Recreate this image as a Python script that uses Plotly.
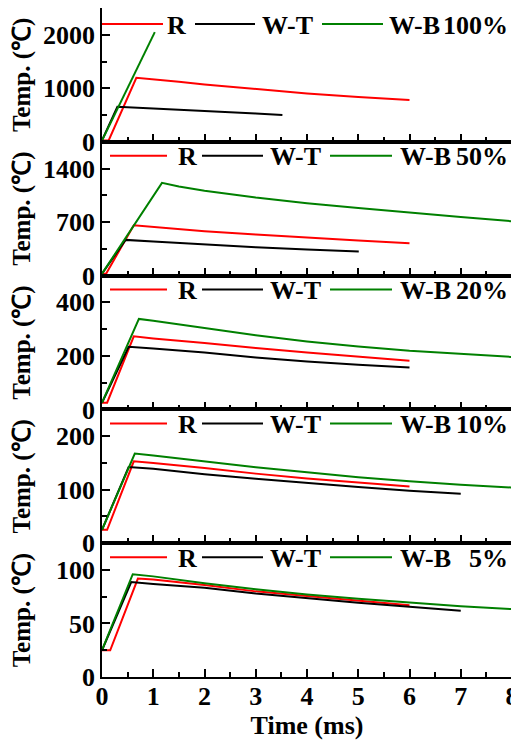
import plotly.graph_objects as go
from plotly.subplots import make_subplots

# ---------------- data ----------------
panel_labels = ["100%", "50%", "20%", "10%", "5%"]
series_names = ["R", "W-T", "W-B"]
series_colors = ["#FF0000", "#000000", "#008000"]

# 100 %
t_R_100 = [0, 0.13, 0.67, 1, 1.5, 2, 3, 4, 5, 6]
T_R_100 = [25, 25, 1197, 1170, 1120, 1072, 985, 904, 835, 779]
t_WT_100 = [0, 0.3, 1, 2, 3, 3.52]
T_WT_100 = [25, 655, 623, 580, 530, 499]
t_WB_100 = [0, 1.03]
T_WB_100 = [25, 2050]

# 50 %
t_R_50 = [0, 0.08, 0.62, 1, 1.5, 2, 3, 4, 5, 6]
T_R_50 = [25, 25, 659, 635, 606, 580, 537, 493, 458, 423]
t_WT_50 = [0, 0.46, 1, 2, 3, 4, 5.01]
T_WT_50 = [25, 467, 445, 406, 371, 340, 314]
t_WB_50 = [0, 1.17, 1.5, 2, 3, 4, 5, 6, 7, 8]
T_WB_50 = [25, 1213, 1165, 1110, 1020, 947, 884, 823, 766, 711]

# 20 %
t_R_20 = [0, 0.1, 0.62, 1, 2, 3, 4, 5, 6]
T_R_20 = [25, 25, 273, 265, 248, 229, 213, 197, 182]
t_WT_20 = [0, 0.52, 1, 2, 3, 4, 5, 6]
T_WT_20 = [25, 234, 228, 213, 194, 179, 167, 157]
t_WB_20 = [0, 0.72, 1, 1.5, 2, 3, 4, 5, 6, 7, 8]
T_WB_20 = [25, 338, 331, 318, 304, 277, 254, 235, 219, 207, 196]

# 10 %
t_R_10 = [0, 0.1, 0.62, 1, 2, 3, 4, 5, 6]
T_R_10 = [25, 25, 153, 150, 140.6, 130, 121, 113, 106]
t_WT_10 = [0, 0.52, 1, 2, 3, 4, 5, 6, 7]
T_WT_10 = [25, 142.5, 139, 129, 120.6, 112.5, 105, 98, 92.5]
t_WB_10 = [0, 0.64, 1, 2, 3, 4, 5, 6, 7, 8]
T_WB_10 = [25, 167.5, 164, 153, 142, 132.5, 123, 115.6, 109, 104]

# 5 %
t_R_5 = [0, 0.16, 0.7, 1, 2, 3, 4, 5, 6]
T_R_5 = [25, 25, 92, 91, 86, 80, 75.6, 71, 67]
t_WT_5 = [0, 0.57, 1, 2, 3, 4, 5, 6, 7]
T_WT_5 = [25, 88.75, 87, 83.4, 78, 73.4, 69.4, 65.6, 62]
t_WB_5 = [0, 0.6, 1, 2, 3, 4, 5, 6, 7, 8]
T_WB_5 = [25, 96, 94, 87.5, 82, 77, 73, 69.4, 66, 63.4]

# axis settings per panel
y_max = [2500, 1750, 500, 250, 125]
y_dtick = [1000, 700, 200, 100, 50]
x_range = [0, 8]
x_ticks = [0, 1, 2, 3, 4, 5, 6, 7, 8]

panels = [
    [(t_R_100, T_R_100), (t_WT_100, T_WT_100), (t_WB_100, T_WB_100)],
    [(t_R_50, T_R_50), (t_WT_50, T_WT_50), (t_WB_50, T_WB_50)],
    [(t_R_20, T_R_20), (t_WT_20, T_WT_20), (t_WB_20, T_WB_20)],
    [(t_R_10, T_R_10), (t_WT_10, T_WT_10), (t_WB_10, T_WB_10)],
    [(t_R_5, T_R_5), (t_WT_5, T_WT_5), (t_WB_5, T_WB_5)],
]

# ---------------- figure ----------------
BODY = 8  # default page margin around the figure
W, H = 519 - BODY, 742 - BODY
ML, MR, MT, MB = 94, 7, 0, 65
PW = W - ML - MR
PH = (H - MT - MB) / 5

FONT = "Liberation Serif"
tick_font = dict(family=FONT, size=26, color="black", weight="bold")
leg_font = dict(family=FONT, size=26, color="black", weight="bold")
title_font = dict(family=FONT, size=25, color="black", weight="bold")

fig = make_subplots(rows=5, cols=1, shared_xaxes=True, vertical_spacing=0)

for r, series in enumerate(panels, start=1):
    for (tx, ty), name, col in zip(series, series_names, series_colors):
        fig.add_trace(go.Scatter(x=tx, y=ty, mode="lines", name=name,
                                 line=dict(color=col, width=2),
                                 showlegend=False), row=r, col=1)

axis_common = dict(showline=True, linecolor="black", linewidth=1.5, mirror=True,
                   showgrid=False, zeroline=False, ticks="inside", ticklen=8,
                   tickwidth=1.5, tickcolor="black", tickfont=tick_font,
                   automargin=False)

for r in range(1, 6):
    i = r - 1
    standoff = 8 if y_max[i] >= 1000 else 21
    fig.update_yaxes(row=r, col=1, range=[0, y_max[i]], tick0=0, dtick=y_dtick[i],
                     minor=dict(ticks="inside", ticklen=5, tickwidth=1.5,
                                tickcolor="black", dtick=y_dtick[i] / 2, tick0=0),
                     title=dict(text="Temp. (℃)", font=title_font, standoff=standoff),
                     **axis_common)
    fig.update_xaxes(row=r, col=1, range=x_range, tickvals=x_ticks,
                     ticktext=[str(v) for v in x_ticks],
                     minor=dict(ticks="inside", ticklen=5, tickwidth=1.5,
                                tickcolor="black", dtick=0.5, tick0=0),
                     showticklabels=(r == 5),
                     **axis_common)
fig.update_xaxes(row=5, col=1, ticklabelstandoff=-5,
                 title=dict(text="Time (ms)", font=dict(family=FONT, size=26, color="black", weight="bold"), standoff=4))


def fx(px):
    """screen pixel -> paper fraction"""
    return (px - BODY - ML) / PW


# legend geometry (screen pixels) : (line start, line end, text left)
leg_geom_first = [(102, 163, 165), (195, 255, 260), (322, 383, 387)]
leg_geom_other = [(110, 167, 176), (202, 263, 268), (330, 392, 398)]

shapes = []
annotations = []
for r in range(1, 6):
    yref = "y domain" if r == 1 else f"y{r} domain"
    geom = leg_geom_first if r == 1 else leg_geom_other
    off = 16 if r == 1 else 14
    yl = 1 - off / PH
    for (x0, x1, xt), name, col in zip(geom, series_names, series_colors):
        shapes.append(dict(type="line", xref="paper", yref=yref, x0=fx(x0), x1=fx(x1),
                           y0=yl, y1=yl, line=dict(color=col, width=2)))
        annotations.append(dict(text=name, xref="paper", yref=yref, x=fx(xt), y=yl,
                                xanchor="left", yanchor="middle", yshift=-1,
                                showarrow=False, font=leg_font))
    annotations.append(dict(text=panel_labels[r - 1], xref="paper", yref=yref,
                            x=fx(510), y=yl, xanchor="right", yanchor="middle",
                            yshift=-1, showarrow=False, font=leg_font))

fig.update_layout(width=W, height=H, margin=dict(l=ML, r=MR, t=MT, b=MB),
                  plot_bgcolor="white", paper_bgcolor="white",
                  shapes=shapes, annotations=annotations, showlegend=False)

fig.write_html("out.html")
